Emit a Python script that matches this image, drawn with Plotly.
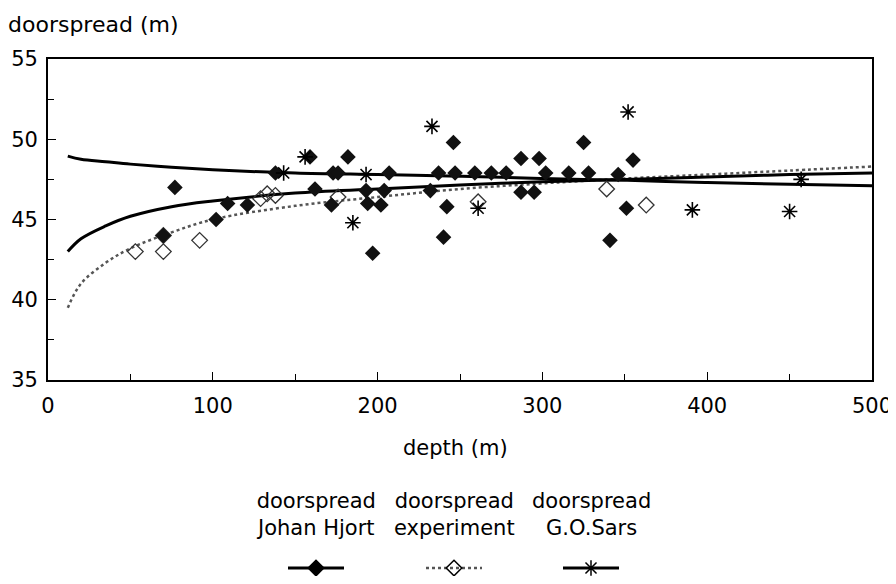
import plotly.graph_objects as go

jh_depth = [70, 77, 102, 109, 121, 138, 159, 162, 172, 173, 176, 182, 193, 194, 197,
            202, 204, 207, 232, 237, 240, 242, 246, 247, 259, 269, 278, 287, 287, 295,
            298, 302, 316, 325, 328, 341, 346, 351, 355]
jh_spread = [44.0, 47.0, 45.0, 46.0, 45.9, 47.9, 48.9, 46.9, 45.9, 47.9, 47.9, 48.9, 46.8, 46.0, 42.9,
             45.9, 46.8, 47.9, 46.8, 47.9, 43.9, 45.8, 49.8, 47.9, 47.9, 47.9, 47.9, 48.8, 46.7, 46.7,
             48.8, 47.9, 47.9, 49.8, 47.9, 43.7, 47.8, 45.7, 48.7]

exp_depth = [53, 70, 70, 92, 129, 133, 138, 176, 261, 339, 363]
exp_spread = [43.0, 43.0, 44.0, 43.7, 46.3, 46.6, 46.5, 46.4, 46.1, 46.9, 45.9]

gos_depth = [143, 156, 185, 193, 233, 261, 352, 391, 450, 457]
gos_spread = [47.9, 48.9, 44.8, 47.8, 50.8, 45.7, 51.7, 45.6, 45.5, 47.5]

# ---- fitted curves ----
fit_depth = [12, 20, 35, 50, 75, 100, 150, 200, 250, 300, 350, 400, 450, 500]
jh_fit = [43.0, 43.8, 44.6, 45.2, 45.8, 46.15, 46.65, 46.9, 47.15, 47.35, 47.5, 47.65, 47.8, 47.9]
exp_fit = [39.5, 41.0, 42.3, 43.2, 44.2, 45.0, 45.85, 46.4, 46.9, 47.25, 47.55, 47.8, 48.05, 48.3]
gos_fit = [48.95, 48.75, 48.6, 48.45, 48.25, 48.1, 47.9, 47.8, 47.7, 47.55, 47.45, 47.3, 47.2, 47.1]

x_ticks = [0, 100, 200, 300, 400, 500]
y_ticks = [35, 40, 45, 50, 55]
legend_names = ["doorspread<br>Johan Hjort", "doorspread<br>experiment", "doorspread<br>G.O.Sars"]

# page body has an 8px margin: build the figure smaller and shift coordinates
OFF = 8
W, H = 896 - OFF, 584 - 2 * OFF
PL, PR, PT, PB = 48 - OFF, 872 - OFF, 59 - OFF, 380 - OFF  # plot area in figure pixels
FONT = "DejaVu Sans"

fig = go.Figure()

# fitted curves
fig.add_trace(go.Scatter(x=fit_depth, y=exp_fit, mode="lines", line_shape="spline",
                         line=dict(color="#555", width=2.5, dash="dot"), showlegend=False))
fig.add_trace(go.Scatter(x=fit_depth, y=jh_fit, mode="lines", line_shape="spline",
                         line=dict(color="black", width=3), showlegend=False))
fig.add_trace(go.Scatter(x=fit_depth, y=gos_fit, mode="lines", line_shape="spline",
                         line=dict(color="black", width=3), showlegend=False))

# observations
fig.add_trace(go.Scatter(x=exp_depth, y=exp_spread, mode="markers",
                         marker=dict(symbol="diamond-open", size=12, color="#333",
                                     line=dict(width=1.3, color="#333")), showlegend=False))
fig.add_trace(go.Scatter(x=jh_depth, y=jh_spread, mode="markers",
                         marker=dict(symbol="diamond", size=12, color="#111"), showlegend=False))
fig.add_trace(go.Scatter(x=gos_depth, y=gos_spread, mode="markers",
                         marker=dict(symbol="asterisk-open", size=13, color="black",
                                     line=dict(width=1.6, color="black")), showlegend=False))

# ---- custom legend drawn on a pixel-unit overlay axis (reference-page pixels) ----
leg_cx = [316, 454, 591]
leg_sym = ["diamond", "diamond-open", "asterisk-open"]
leg_line = [dict(color="black", width=3), dict(color="#555", width=2.5, dash="dot"),
            dict(color="black", width=3)]
for cx, sym, ln, name in zip(leg_cx, leg_sym, leg_line, legend_names):
    fig.add_trace(go.Scatter(x=[cx - 28, cx + 28], y=[568, 568], mode="lines", line=ln,
                             xaxis="x2", yaxis="y2", showlegend=False, hoverinfo="skip"))
    fig.add_trace(go.Scatter(x=[cx], y=[568], mode="markers",
                             marker=dict(symbol=sym, size=12 if sym != "asterisk-open" else 13,
                                         color="black", line=dict(width=1.5, color="black")),
                             xaxis="x2", yaxis="y2", showlegend=False, hoverinfo="skip"))
    fig.add_annotation(x=cx, y=514, xref="x2", yref="y2", text=name, showarrow=False,
                       font=dict(family=FONT, size=21, color="black"), align="center",
                       yanchor="middle")

fig.add_annotation(x=OFF, y=24, xref="x2", yref="y2", text="doorspread (m)", showarrow=False,
                   xanchor="left", yanchor="middle", xshift=-2,
                   font=dict(family=FONT, size=22, color="black"))
fig.add_annotation(x=455, y=448, xref="x2", yref="y2", text="depth (m)", showarrow=False,
                   xanchor="center", yanchor="middle", font=dict(family=FONT, size=21, color="black"))

fig.update_layout(
    width=W, height=H,
    margin=dict(l=0, r=0, t=0, b=0, pad=0, autoexpand=False),
    paper_bgcolor="white", plot_bgcolor="rgba(0,0,0,0)",
    font=dict(family=FONT, size=21, color="black"),
    xaxis=dict(domain=[PL / W, PR / W], range=[0, 500], tickvals=x_ticks, automargin=False,
               ticks="inside", ticklen=8, tickwidth=1.3, tickcolor="black",
               minor=dict(dtick=50, ticks="inside", ticklen=6, tickcolor="black", showgrid=False),
               showline=True, linecolor="black", linewidth=1.8, mirror=True,
               showgrid=False, zeroline=False, tickfont=dict(size=21), ticklabelstandoff=6),
    yaxis=dict(domain=[(H - PB) / H, (H - PT) / H], range=[35, 55], tickvals=y_ticks, automargin=False,
               ticks="inside", ticklen=8, tickwidth=1.3, tickcolor="black",
               minor=dict(dtick=2.5, ticks="inside", ticklen=6, tickcolor="black", showgrid=False),
               showline=True, linecolor="black", linewidth=1.8, mirror=True,
               showgrid=False, zeroline=False, tickfont=dict(size=21), ticklabelstandoff=4),
    # overlay axis in reference-page pixels (page pixel p sits at figure pixel p - OFF)
    xaxis2=dict(domain=[0, 1], range=[OFF, OFF + W], visible=False, fixedrange=True, automargin=False),
    yaxis2=dict(domain=[0, 1], range=[OFF + H, OFF], visible=False, fixedrange=True, anchor="x2",
                automargin=False),
)
fig.update_traces(selector=dict(xaxis="x2"), cliponaxis=False)

fig.write_html("out.html")
